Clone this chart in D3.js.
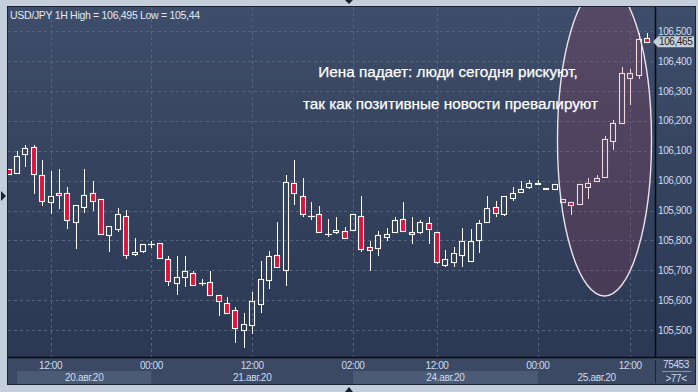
<!DOCTYPE html>
<html><head><meta charset="utf-8">
<script src="https://cdn.jsdelivr.net/npm/d3@7"></script>
<style>html,body{margin:0;padding:0;background:#c4cfdb;overflow:hidden}</style>
</head><body><svg id="c" width="698" height="392"></svg>
<script>
// ---- data ----
const opens=[106.038,106.027,106.088,106.112,106.018,105.928,105.959,105.958,105.861,105.911,105.958,105.938,105.817,105.839,105.881,105.755,105.766,105.787,105.790,105.737,105.658,105.678,105.690,105.656,105.660,105.616,105.589,105.566,105.499,105.516,105.586,105.666,105.750,105.700,105.991,105.948,105.881,105.887,105.820,105.827,105.830,105.834,105.881,105.777,105.774,105.810,105.827,105.871,105.827,105.827,105.857,105.827,105.717,105.727,105.750,105.730,105.800,105.861,105.911,105.887,105.941,105.961,105.978,105.988,105.971,105.971,105.928,105.928,105.921,105.978,105.998,106.011,106.132,106.192,106.343,106.353,106.479];
const highs=[106.040,106.099,106.119,106.119,106.069,106.032,106.039,105.978,105.918,106.038,105.999,105.938,105.847,105.908,105.902,105.809,105.787,105.798,105.790,105.748,105.748,105.748,105.697,105.670,105.698,105.616,105.610,105.576,105.557,105.627,105.731,105.764,105.862,106.019,106.069,106.008,105.928,105.915,105.871,105.877,105.844,105.887,105.949,105.799,105.831,105.841,105.877,105.928,105.877,105.867,105.877,105.827,105.768,105.778,105.841,105.837,105.868,105.950,105.931,105.948,105.978,105.998,106.001,106.001,105.974,105.988,105.938,105.928,105.988,106.008,106.018,106.149,106.202,106.380,106.373,106.495,106.495];
const lows=[106.018,106.025,106.047,105.955,105.916,105.887,105.905,105.839,105.770,105.891,105.899,105.820,105.760,105.827,105.739,105.748,105.757,105.776,105.740,105.648,105.618,105.645,105.650,105.647,105.618,105.548,105.558,105.457,105.440,105.488,105.558,105.638,105.710,105.648,105.920,105.879,105.868,105.827,105.810,105.820,105.804,105.834,105.760,105.699,105.748,105.799,105.827,105.830,105.789,105.820,105.789,105.720,105.710,105.710,105.710,105.730,105.758,105.861,105.877,105.881,105.931,105.961,105.971,105.984,105.971,105.971,105.928,105.884,105.921,105.940,105.998,106.011,106.102,106.192,106.252,106.339,106.460];
const closes=[106.021,106.083,106.108,106.021,105.931,105.948,105.952,105.867,105.918,105.951,105.931,105.820,105.847,105.887,105.750,105.761,105.787,105.787,105.740,105.665,105.676,105.697,105.650,105.656,105.618,105.596,105.558,105.508,105.519,105.596,105.670,105.747,105.710,105.994,105.958,105.887,105.881,105.827,105.820,105.834,105.807,105.887,105.770,105.767,105.817,105.820,105.867,105.830,105.820,105.861,105.837,105.727,105.737,105.757,105.797,105.797,105.857,105.907,105.891,105.948,105.958,105.971,105.991,105.991,105.974,105.988,105.938,105.918,105.988,105.991,106.008,106.138,106.192,106.359,106.359,106.473,106.465];
const timeTickIdx=[5,17,29,41,51,63,74];
const timeTickLabels=["12:00","00:00","12:00","02:00","12:00","00:00","12:00"];
const dayStartIdx=[1,17,41,63];
const dayEndIdx=[17,41,63,77];
const dayLabels=["20.авг.20","21.авг.20","24.авг.20","25.авг.20"];
const priceTicks=[105.5,105.6,105.7,105.8,105.9,106.0,106.1,106.2,106.3,106.4,106.5];
const lastPrice=106.465;
const titleText="USD/JPY 1H High = 106,495 Low = 105,44";
const noteLines=["Иена падает: люди сегодня рискуют,","так как позитивные новости превалируют"];
const cornerTop="75453", cornerBottom=">77<";

// ---- layout ----
const W=698,H=392, L=8, R=655, T=7, B=357, AX=695, BB=384;
const FONT="'Liberation Sans', Arial, sans-serif";
const svg=d3.select("#c");
const defs=svg.append("defs");
const g1=defs.append("linearGradient").attr("id","bg").attr("x1",0).attr("y1",0).attr("x2",0).attr("y2",1);
g1.append("stop").attr("offset","0%").attr("stop-color","#3e4d69");
g1.append("stop").attr("offset","100%").attr("stop-color","#2b3853");
defs.append("clipPath").attr("id","plotclip").append("rect").attr("x",L).attr("y",T).attr("width",R-L).attr("height",B-T);

const x=d3.scaleLinear().domain([0,76]).range([8.6,647]);
const y=d3.scaleLinear().domain([105.5,106.5]).range([330,31.3]);

// frame
svg.append("rect").attr("width",W).attr("height",H).attr("fill","#c4cfdb");
svg.append("rect").attr("x",L-1).attr("y",T-1).attr("width",AX-L+2).attr("height",BB-T+2).attr("fill","#1a2333");
svg.append("rect").attr("x",L).attr("y",T).attr("width",AX-L).attr("height",B-T).attr("fill","url(#bg)");
svg.append("rect").attr("x",L).attr("y",B).attr("width",AX-L).attr("height",BB-B).attr("fill","#3b4964");

// date bands
dayStartIdx.forEach((s,i)=>{
  if(i%2===0) svg.append("rect").attr("x",x(s)).attr("y",371).attr("width",x(dayEndIdx[i])-x(s)).attr("height",BB-371).attr("fill","#4b5a75");
});

// grid
const grid=svg.append("g").attr("stroke","#56657f").attr("stroke-dasharray","3,3").attr("stroke-width",1);
priceTicks.forEach(p=>{const yy=Math.round(y(p))+0.5;grid.append("line").attr("x1",L).attr("x2",R).attr("y1",yy).attr("y2",yy);});
timeTickIdx.forEach(i=>{const xx=Math.round(x(i))+0.5;grid.append("line").attr("x1",xx).attr("x2",xx).attr("y1",T).attr("y2",B);});

// candles
const plot=svg.append("g").attr("clip-path","url(#plotclip)");
const data=opens.map((o,i)=>({i,o,h:highs[i],l:lows[i],c:closes[i]}));
data.forEach(d=>{
  const cx=Math.round(x(d.i));
  const yo=y(d.o), yc=y(d.c), yh=y(d.h), yl=y(d.l);
  const top=Math.round(Math.min(yo,yc)), bot=Math.round(Math.max(yo,yc));
  const wx=cx+0.5;
  const up=d.c>=d.o;
  if(yh<top) plot.append("line").attr("x1",wx).attr("x2",wx).attr("y1",Math.round(yh)).attr("y2",top).attr("stroke","#fff").attr("stroke-width",1);
  if(yl>bot) plot.append("line").attr("x1",wx).attr("x2",wx).attr("y1",bot).attr("y2",Math.round(yl)).attr("stroke","#fff").attr("stroke-width",1);
  if(bot-top<1){
    plot.append("line").attr("x1",cx-3).attr("x2",cx+4).attr("y1",top+0.5).attr("y2",top+0.5).attr("stroke","#fff").attr("stroke-width",1.2);
  } else {
    plot.append("rect").attr("x",cx-2.5).attr("y",top+0.5).attr("width",5).attr("height",bot-top)
      .attr("fill",up?"none":"#dc143c").attr("stroke","#fff").attr("stroke-width",1.1);
  }
});

// ellipse annotation
plot.append("ellipse").attr("cx",604.5).attr("cy",140).attr("rx",47).attr("ry",156)
  .attr("fill","rgba(182,62,92,0.2)").attr("stroke","#ece2ea").attr("stroke-width",1.4);

// note text
noteLines.forEach((t,i)=>{
  svg.append("text").attr("x",i===0?448:450.5).attr("y",i===0?77:109).attr("text-anchor","middle")
    .attr("font-family",FONT).attr("font-size",15.3).attr("fill","#ffffff")
    .attr("stroke","#ffffff").attr("stroke-width",0.25).text(t);
});

// separators
svg.append("line").attr("x1",R+0.5).attr("x2",R+0.5).attr("y1",T).attr("y2",B).attr("stroke","#070b12").attr("stroke-width",1.5);
svg.append("line").attr("x1",L).attr("x2",AX).attr("y1",B+0.5).attr("y2",B+0.5).attr("stroke","#070b12").attr("stroke-width",1.5);
svg.append("line").attr("x1",R+0.5).attr("x2",R+0.5).attr("y1",B+3).attr("y2",BB-1).attr("stroke","#1c2535").attr("stroke-width",1);

// price axis labels
const fmt=p=>p.toFixed(3).replace(".",",");
priceTicks.forEach(p=>{
  svg.append("text").attr("x",658).attr("y",y(p)+3.5).attr("font-family",FONT).attr("font-size",10)
    .attr("letter-spacing","-0.4").attr("fill","#cddbee").text(fmt(p));
});
// last price marker
const ly=y(lastPrice);
svg.append("path").attr("d",`M653,${ly} L658,${ly-5.5} L694,${ly-5.5} L694,${ly+5.5} L658,${ly+5.5} Z`).attr("fill","#c9ced6");
svg.append("text").attr("x",659).attr("y",ly+3.5).attr("font-family",FONT).attr("font-size",10)
  .attr("letter-spacing","-0.4").attr("fill","#1b1f27").text(fmt(lastPrice));

// time axis
timeTickIdx.forEach((idx,i)=>{
  svg.append("text").attr("x",x(idx)).attr("y",368.5).attr("text-anchor","middle").attr("font-family",FONT)
    .attr("font-size",10).attr("letter-spacing","-0.4").attr("fill","#cddbee").text(timeTickLabels[i]);
});
dayLabels.forEach((t,i)=>{
  svg.append("text").attr("x",(x(dayStartIdx[i])+x(dayEndIdx[i]))/2).attr("y",381).attr("text-anchor","middle")
    .attr("font-family",FONT).attr("font-size",10).attr("letter-spacing","-0.3").attr("fill","#cddbee").text(t);
});
// corner
svg.append("text").attr("x",676).attr("y",368).attr("text-anchor","middle").attr("font-family",FONT).attr("font-size",10).attr("letter-spacing","-0.4").attr("fill","#cddbee").text(cornerTop);
svg.append("line").attr("x1",662).attr("x2",691).attr("y1",371.5).attr("y2",371.5).attr("stroke","#8494ad").attr("stroke-width",1);
svg.append("text").attr("x",676).attr("y",381.5).attr("text-anchor","middle").attr("font-family",FONT).attr("font-size",10).attr("letter-spacing","-0.4").attr("fill","#cddbee").text(cornerBottom);

// title
svg.append("text").attr("x",10).attr("y",19).attr("font-family",FONT).attr("font-size",10.5)
  .attr("letter-spacing","-0.3").attr("fill","#e2eaf4").text(titleText);

// frame arrows
svg.append("path").attr("d","M345,0 L353,0 L349,4 Z").attr("fill","#1a2230");
svg.append("path").attr("d","M345,392 L353,392 L349,387 Z").attr("fill","#1a2230");
svg.append("path").attr("d","M1,191 L6,196 L1,201 Z").attr("fill","#1a2230");
</script></body></html>
